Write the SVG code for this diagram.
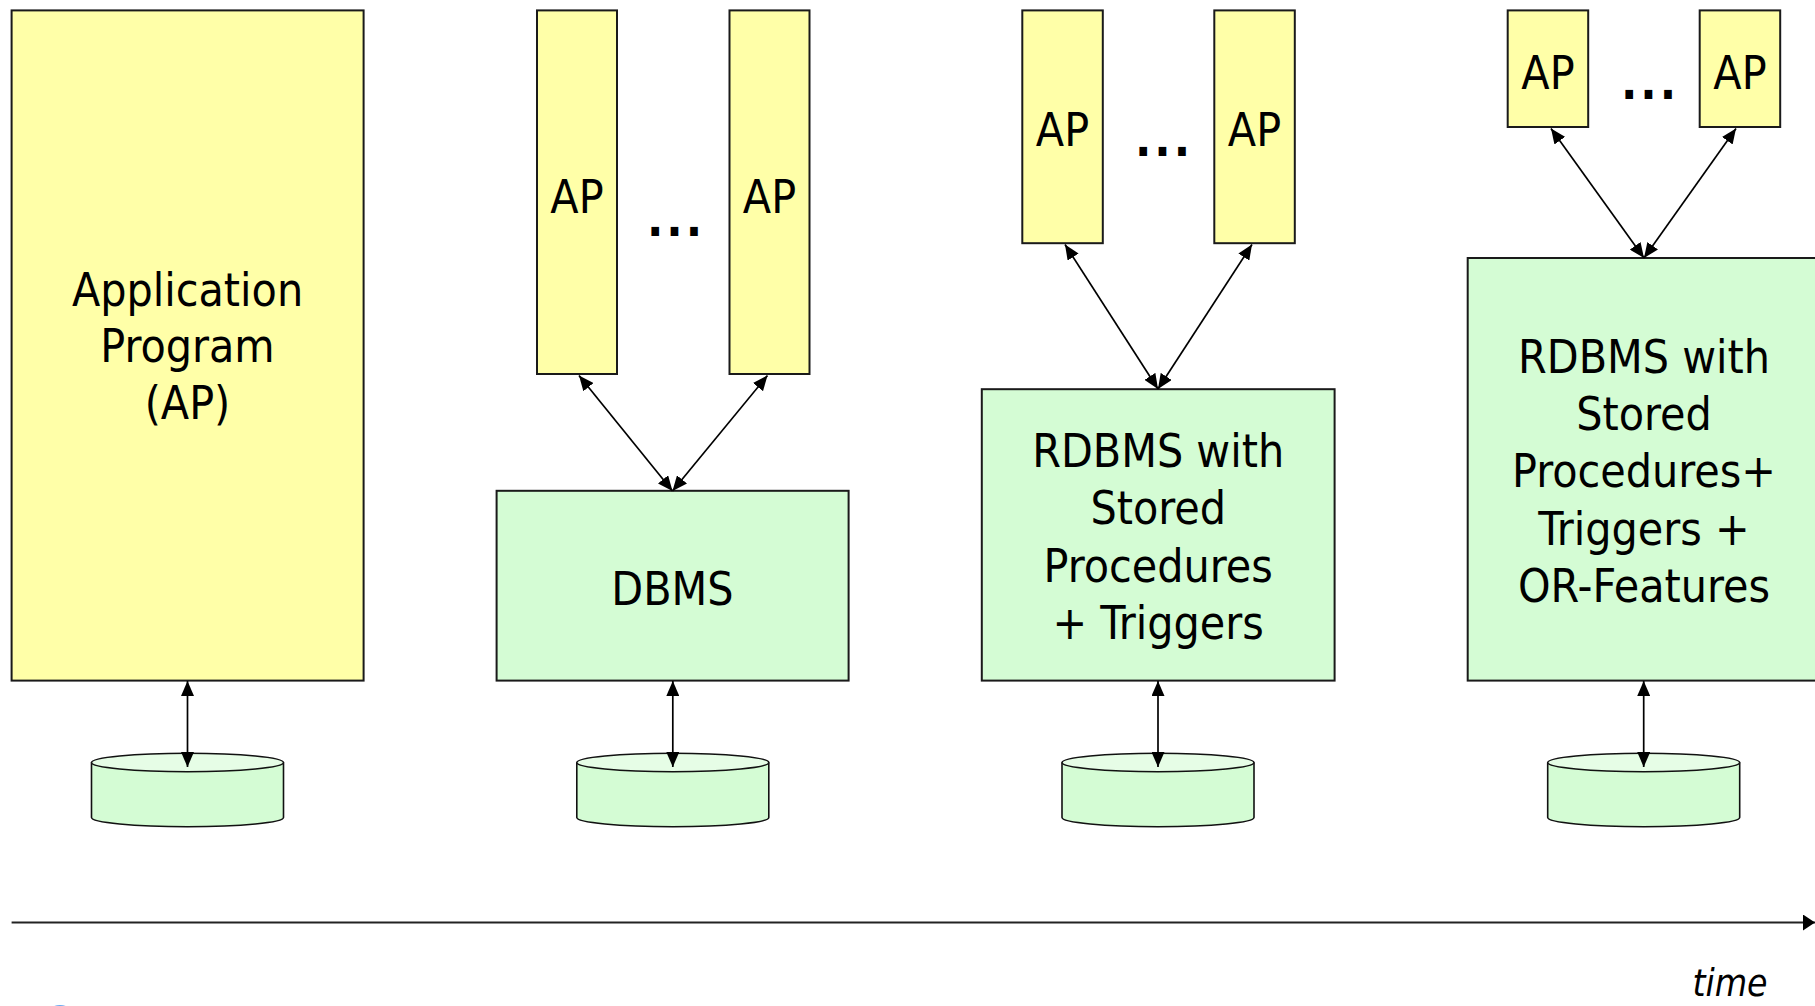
<svg xmlns="http://www.w3.org/2000/svg" width="1815" height="1006" viewBox="0 0 1815 1006">
<style>
.ap{fill:#FFFFA8;stroke:#1a1a1a;stroke-width:2}
.db{fill:#D4FCD4;stroke:#1a1a1a;stroke-width:2}
.t{font-family:'DejaVu Sans Condensed','DejaVu Sans',sans-serif;font-stretch:condensed;font-size:46px;fill:#000;text-anchor:middle}
.dots{font-family:'DejaVu Sans Condensed','DejaVu Sans',sans-serif;font-size:48px;font-weight:bold;fill:#000;text-anchor:middle;letter-spacing:3px}
.cylb{fill:#D4FCD4;stroke:#111;stroke-width:1.6}
.cylt{fill:#E6FDE6;stroke:#111;stroke-width:1.6}
.c{stroke:#000;stroke-width:1.7;fill:none;marker-start:url(#ah);marker-end:url(#ah)}
</style>
<defs>
<marker id="ah" markerUnits="userSpaceOnUse" markerWidth="15" markerHeight="13" refX="15" refY="6.5" orient="auto-start-reverse">
<path d="M0,0 L15,6.5 L0,13 z" fill="#000"/>
</marker>
<marker id="ah2" markerUnits="userSpaceOnUse" markerWidth="12" markerHeight="16" refX="12" refY="8" orient="auto">
<path d="M0,0 L12,8 L0,16 z" fill="#000"/>
</marker>
<symbol id="cyl" overflow="visible">
<path class="cylb" d="M-96,0 L-96,55 A96,9.2 0 0 0 96,55 L96,0"/>
<ellipse class="cylt" cx="0" cy="0" rx="96" ry="9.2"/>
</symbol>
</defs>

<g id="col1-ap">
<rect class="ap" x="11.6" y="10.4" width="352" height="670.2"/>
<text class="t" x="187.5" y="305.7">Application</text>
<text class="t" x="187.5" y="362">Program</text>
<text class="t" x="187.5" y="419">(AP)</text>
</g>
<g id="col1-db"><use href="#cyl" x="187.5" y="762.5"/></g>

<g id="col2-ap1"><rect class="ap" x="537" y="10.4" width="80" height="363.6"/><text class="t" x="577" y="212.7">AP</text></g>
<text class="dots" x="676" y="236">...</text>
<g id="col2-ap2"><rect class="ap" x="729.5" y="10.4" width="80" height="363.6"/><text class="t" x="769.5" y="212.7">AP</text></g>
<g id="col2-dbms"><rect class="db" x="496.6" y="490.8" width="352" height="189.8"/><text class="t" x="672.5" y="605">DBMS</text></g>
<g id="col2-db"><use href="#cyl" x="672.8" y="762.5"/></g>

<g id="col3-ap1"><rect class="ap" x="1022.3" y="10.4" width="80.5" height="232.8"/><text class="t" x="1062.5" y="146">AP</text></g>
<text class="dots" x="1164" y="156">...</text>
<g id="col3-ap2"><rect class="ap" x="1214.3" y="10.4" width="80.5" height="232.8"/><text class="t" x="1254.5" y="146">AP</text></g>
<g id="col3-rdbms"><rect class="db" x="981.8" y="389.2" width="352.8" height="291.4"/>
<text class="t" x="1158.2" y="466.5">RDBMS with</text>
<text class="t" x="1158.2" y="524">Stored</text>
<text class="t" x="1158.2" y="581.5">Procedures</text>
<text class="t" x="1158.2" y="638.5">+ Triggers</text>
</g>
<g id="col3-db"><use href="#cyl" x="1158" y="762.5"/></g>

<g id="col4-ap1"><rect class="ap" x="1507.7" y="10.4" width="80.5" height="116.6"/><text class="t" x="1548" y="88.5">AP</text></g>
<text class="dots" x="1650" y="99">...</text>
<g id="col4-ap2"><rect class="ap" x="1699.7" y="10.4" width="80.5" height="116.6"/><text class="t" x="1740" y="88.5">AP</text></g>
<g id="col4-rdbms"><rect class="db" x="1467.7" y="258" width="352.5" height="422.6"/>
<text class="t" x="1644" y="372.8">RDBMS with</text>
<text class="t" x="1644" y="429.5">Stored</text>
<text class="t" x="1644" y="486.6">Procedures+</text>
<text class="t" x="1644" y="544.5">Triggers +</text>
<text class="t" x="1644" y="602">OR-Features</text>
</g>
<g id="col4-db"><use href="#cyl" x="1643.7" y="762.5"/></g>

<g id="connectors">
<line class="c" x1="187.5" y1="681" x2="187.5" y2="767"/>
<line class="c" x1="672.8" y1="681" x2="672.8" y2="767"/>
<line class="c" x1="1158" y1="681" x2="1158" y2="767"/>
<line class="c" x1="1643.7" y1="681" x2="1643.7" y2="767"/>
<line class="c" x1="579" y1="375.5" x2="672.5" y2="491"/>
<line class="c" x1="767.5" y1="375.5" x2="672.5" y2="491"/>
<line class="c" x1="1065" y1="244.5" x2="1158" y2="389"/>
<line class="c" x1="1252" y1="244.5" x2="1158" y2="389"/>
<line class="c" x1="1551" y1="128.5" x2="1644" y2="258"/>
<line class="c" x1="1736" y1="128.5" x2="1644" y2="258"/>
<line x1="11.6" y1="922.5" x2="1815" y2="922.5" stroke="#222" stroke-width="2" marker-end="url(#ah2)"/>
</g>
<text x="1730" y="996" font-family="'DejaVu Sans Condensed','DejaVu Sans',sans-serif" font-style="italic" font-size="37" text-anchor="middle" fill="#000">time</text>
<ellipse cx="60" cy="1017" rx="14" ry="12" fill="#6AAAF0"/>
</svg>
